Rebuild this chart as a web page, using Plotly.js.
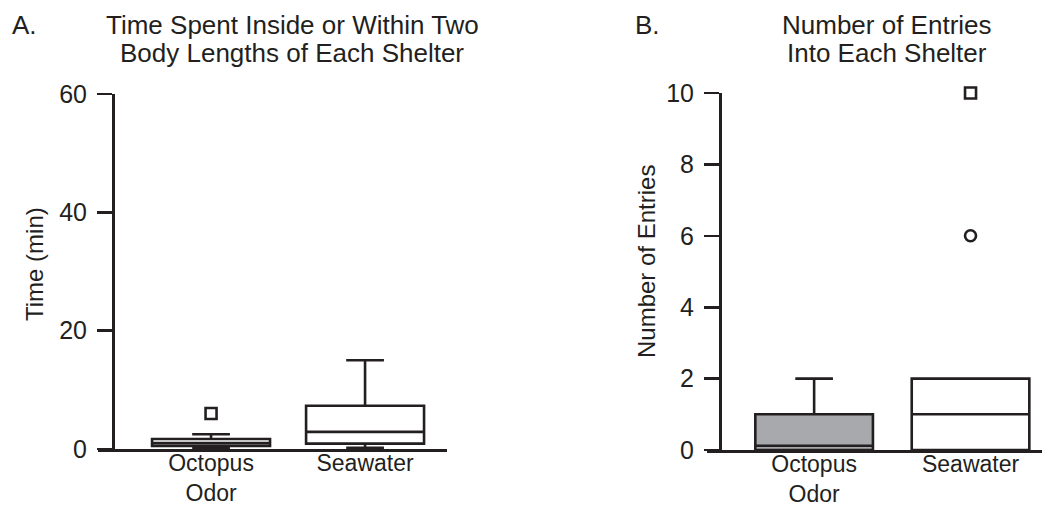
<!DOCTYPE html>
<html>
<head>
<meta charset="utf-8">
<script src="https://cdn.plot.ly/plotly-3.0.1.min.js"></script>
<style>html,body{margin:0;padding:0;background:#fff}#chart{width:1056px;height:507px}</style>
</head>
<body>
<div id="chart"></div>
<script>
// ---- data ----
const categories = ['Octopus<br>Odor', 'Seawater'];

// Panel A: time (min) box statistics
const timeQ1       = [0.5, 0.9];
const timeMedian   = [1.0, 2.9];
const timeQ3       = [1.7, 7.3];
const timeLower    = [0.2, 0.2];
const timeUpper    = [2.5, 15.0];
const timeOutlierCats = ['Octopus<br>Odor'];
const timeOutlierVals = [6.0];

// Panel B: number of entries box statistics
const entryQ1      = [0, 0];
const entryMedian  = [0.12, 1];
const entryQ3      = [1, 2];
const entryLower   = [0, 0];
const entryUpper   = [2, 2];
const entrySquareCats = ['Seawater'];
const entrySquareVals = [10];
const entryCircleCats = ['Seawater'];
const entryCircleVals = [6];

const yTicksA = [0, 20, 40, 60];
const yTicksB = [0, 2, 4, 6, 8, 10];

// ---- style ----
const INK = '#231f20';
const FONT = 'Liberation Sans, Arial, Helvetica, sans-serif';
const LW = 2.6;
const fillsA = ['#ffffff', '#ffffff'];
const fillsB = ['#a7a9ac', '#ffffff'];
const W = 1056, H = 507;
const px = v => v / W, py = v => 1 - v / H;

const traces = [];
function boxes(q1, med, q3, lo, hi, fills, xa, ya, width) {
  categories.forEach((c, i) => {
    traces.push({
      type: 'box', x: [c], q1: [q1[i]], median: [med[i]], q3: [q3[i]],
      lowerfence: [lo[i]], upperfence: [hi[i]],
      boxpoints: false, width: width, whiskerwidth: 0.32,
      fillcolor: fills[i], line: {color: INK, width: LW},
      xaxis: xa, yaxis: ya, showlegend: false, hoverinfo: 'skip'
    });
  });
}
boxes(timeQ1, timeMedian, timeQ3, timeLower, timeUpper, fillsA, 'x', 'y', 0.766);
boxes(entryQ1, entryMedian, entryQ3, entryLower, entryUpper, fillsB, 'x2', 'y2', 0.752);

function outliers(xs, ys, symbol, xa, ya) {
  traces.push({
    type: 'scatter', mode: 'markers', x: xs, y: ys, xaxis: xa, yaxis: ya,
    marker: {symbol: symbol, size: 11, color: INK, line: {color: INK, width: 2.6}},
    showlegend: false, hoverinfo: 'skip', cliponaxis: false
  });
}
outliers(timeOutlierCats, timeOutlierVals, 'square-open', 'x', 'y');
outliers(entrySquareCats, entrySquareVals, 'square-open', 'x2', 'y2');
outliers(entryCircleCats, entryCircleVals, 'circle-open', 'x2', 'y2');

const tickFont = {family: FONT, size: 25, color: INK};
function xaxis(d0, d1, r0, r1, anchor) {
  return {
    domain: [px(d0), px(d1)], range: [r0, r1], type: 'category',
    categoryorder: 'array', categoryarray: categories,
    showline: true, linecolor: INK, linewidth: LW, ticks: '', showgrid: false,
    zeroline: false, tickfont: {family: FONT, size: 23, color: INK},
    ticklabelstandoff: -8, anchor: anchor, automargin: false,
    fixedrange: true
  };
}
function yaxis(pos, range, tv) {
  return {
    domain: [py(449), py(94)], range: range, tickvals: tv,
    anchor: 'free', position: px(pos), showline: true, linecolor: INK, linewidth: LW,
    ticks: 'outside', ticklen: 15, tickwidth: LW, tickcolor: INK,
    showgrid: false, zeroline: false, tickfont: tickFont, ticklabelstandoff: 5,
    automargin: false, fixedrange: true
  };
}

const layout = {
  width: W, height: H, margin: {l: 0, r: 0, t: 0, b: 0},
  paper_bgcolor: '#fff', plot_bgcolor: 'rgba(0,0,0,0)', showlegend: false,
  font: {family: FONT, color: INK},
  xaxis: xaxis(98, 447, -0.734, 1.532, 'y'),
  yaxis: yaxis(113, [0, 60], yTicksA),
  xaxis2: xaxis(707, 1042, -0.685, 1.457, 'y2'),
  yaxis2: Object.assign(yaxis(720, [0, 10], yTicksB), {domain: [py(450), py(93)]}),
  annotations: [
    {text: 'A.', x: px(10), y: py(25), xanchor: 'left'},
    {text: 'Time Spent Inside or Within Two', x: px(292), y: py(25), xanchor: 'center'},
    {text: 'Body Lengths of Each Shelter', x: px(292), y: py(53), xanchor: 'center'},
    {text: 'B.', x: px(633), y: py(25), xanchor: 'left'},
    {text: 'Number of Entries', x: px(887), y: py(25), xanchor: 'center'},
    {text: 'Into Each Shelter', x: px(887), y: py(53), xanchor: 'center'},
    {text: 'Time (min)', x: px(34), y: py(264), textangle: -90, xanchor: 'center', size: 24},
    {text: 'Number of Entries', x: px(646), y: py(262), textangle: -90, xanchor: 'center', size: 24}
  ].map(a => ({
    text: a.text, x: a.x, y: a.y, xref: 'paper', yref: 'paper',
    xanchor: a.xanchor, yanchor: 'middle', showarrow: false,
    textangle: a.textangle || 0,
    font: {family: FONT, size: a.size || 26, color: INK}
  }))
};

Plotly.newPlot('chart', traces, layout, {staticPlot: true, displayModeBar: false});
</script>
</body>
</html>
